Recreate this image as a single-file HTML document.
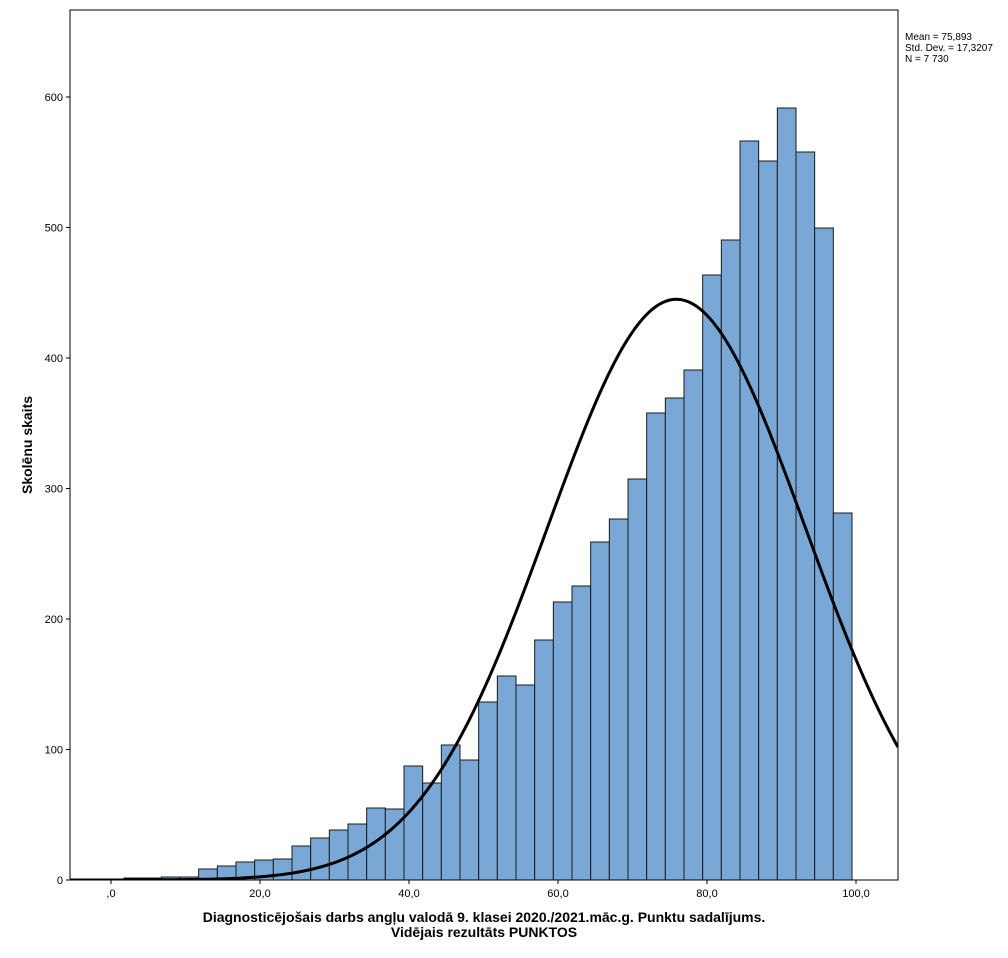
<!DOCTYPE html>
<html><head><meta charset="utf-8"><style>
body{margin:0;background:#fff;}
svg{display:block;font-family:"Liberation Sans",Arial,sans-serif;}
</style></head><body>
<svg id="s" width="1008" height="958" xmlns="http://www.w3.org/2000/svg">
<rect x="0" y="0" width="1008" height="958" fill="#fff"/>
<g id="bars"></g>
<path id="curve" fill="none" stroke="#000" stroke-width="3" clip-path="url(#cp)"/>
<defs><clipPath id="cp"><rect x="70" y="10" width="828" height="870"/></clipPath></defs>
<rect x="70" y="10" width="828" height="870" fill="none" stroke="#000" stroke-width="1"/>
<g id="ticks" stroke="#000" stroke-width="1"></g>
<g font-size="11" fill="#000" text-anchor="end" id="ylab"></g>
<g font-size="11" fill="#000" text-anchor="middle" id="xlab"></g>
<text x="905" y="40" font-size="10">Mean = 75,893</text>
<text x="905" y="51" font-size="10">Std. Dev. = 17,3207</text>
<text x="905" y="62" font-size="10">N = 7 730</text>
<text transform="translate(32,445) rotate(-90)" font-size="14" font-weight="bold" text-anchor="middle">Skolēnu skaits</text>
<text x="484" y="922" font-size="14" font-weight="bold" text-anchor="middle">Diagnosticējošais darbs angļu valodā 9. klasei 2020./2021.māc.g. Punktu sadalījums.</text>
<text x="484" y="937" font-size="14" font-weight="bold" text-anchor="middle">Vidējais rezultāts PUNKTOS</text>
</svg>
<script>
var NS="http://www.w3.org/2000/svg";
function el(t,a,p){var e=document.createElementNS(NS,t);for(var k in a)e.setAttribute(k,a[k]);document.getElementById(p).appendChild(e);return e;}
var tops=[878,878,877,877,869,866,862,860,859,846,838,830,824,808,809,766,783,745,760,702,676,685,640,602,586,542,519,479,413,398,370,275,240,141,161,108,152,228,513];
var w=(852-124)/39;
for(var i=0;i<tops.length;i++){var x=124+i*w;el("rect",{x:x.toFixed(2),y:tops[i],width:w.toFixed(2),height:880-tops[i],fill:"#79a8d6",stroke:"#1a1a1a","stroke-width":"1"},"bars");}
var d="";for(var px=70;px<=898;px+=2){var v=(px-111)/7.45;var z=(v-75.893)/17.3207;var y=880-445*1.305*Math.exp(-z*z/2);d+=(px==70?"M":"L")+px+","+y.toFixed(2);}
document.getElementById("curve").setAttribute("d",d);
for(var k=0;k<=6;k++){var y=880-k*100*1.305;el("line",{x1:66,x2:70,y1:y,y2:y},"ticks");var t=el("text",{x:63,y:y+4},"ylab");t.textContent=k*100;}
var xl=[",0","20,0","40,0","60,0","80,0","100,0"];
for(var k=0;k<6;k++){var x=111+k*20*7.45;el("line",{x1:x,x2:x,y1:880,y2:884},"ticks");var t=el("text",{x:x,y:897},"xlab");t.textContent=xl[k];}
</script>
</body></html>
